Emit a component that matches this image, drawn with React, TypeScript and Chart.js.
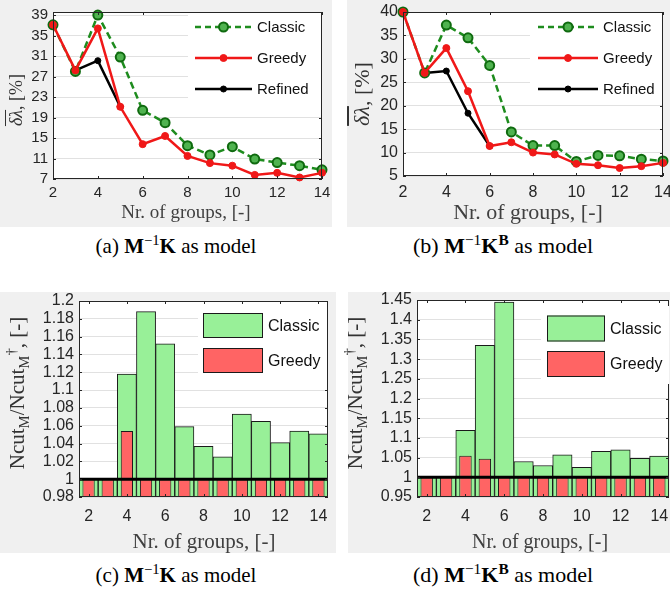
import React, { useEffect, useRef } from "react";
import { Chart, registerables } from "chart.js";
Chart.register(...registerables);

// ---------------- data ----------------
const groups = [2, 3, 4, 5, 6, 7, 8, 9, 10, 11, 12, 13, 14];
const xTickValues = [2, 4, 6, 8, 10, 12, 14];

const aClassic = [37.1, 28.0, 39.0, 30.8, 20.4, 18.0, 13.5, 11.7, 13.3, 10.9, 10.2, 9.6, 8.8];
const aGreedy = [37.1, 28.2, 36.4, 21.1, 13.8, 15.4, 11.5, 10.1, 9.6, 7.8, 8.2, 7.3, 8.2];
const aRefined = [null, 28.2, 30.1, 21.1, null, null, null, null, null, null, null, null, null];
const aYTicks = [7, 11, 15, 19, 23, 27, 31, 35, 39];

const bClassic = [40, 27.0, 37.2, 34.5, 28.6, 14.4, 11.5, 11.5, 8.1, 9.4, 9.3, 8.6, 8.2];
const bGreedy = [40, 27.0, 32.3, 23.1, 11.4, 12.2, 10.0, 9.6, 7.6, 7.3, 6.7, 7.1, 7.8];
const bRefined = [null, 27.0, 27.4, 18.4, 11.4, null, null, null, null, null, null, null, null];
const bYTicks = [5, 10, 15, 20, 25, 30, 35, 40];

const cClassic = [1, 1, 1.118, 1.188, 1.152, 1.059, 1.037, 1.025, 1.073, 1.065, 1.041, 1.054, 1.051];
const cGreedy = [1, 1, 1.054, 1, 1, 1, 1, 1, 1, 1, 1, 1, 1];
const cYTicks = [0.98, 1, 1.02, 1.04, 1.06, 1.08, 1.1, 1.12, 1.14, 1.16, 1.18, 1.2];

const dClassic = [1, 1, 1.119, 1.335, 1.445, 1.04, 1.03, 1.057, 1.025, 1.066, 1.07, 1.048, 1.054];
const dGreedy = [1, 1, 1.055, 1.047, 1, 1, 1, 1, 1, 1, 1, 1, 1];
const dYTicks = [0.95, 1, 1.05, 1.1, 1.15, 1.2, 1.25, 1.3, 1.35, 1.4, 1.45];

const lineLabels = ["Classic", "Greedy", "Refined"];
const barLabels = ["Classic", "Greedy"];

// ---------------- styles ----------------
const SANS = '"Liberation Sans", Arial, Helvetica, sans-serif';
const SERIF = '"Liberation Serif", "Times New Roman", serif';
const PANEL_BG = "#f0f0f0";
const AXIS = "#262626";
const GRID = "#e1e1e1";
const GREEN_LINE = "#1e8c1e";
const GREEN_FILL = "#4fb34f";
const GREEN_EDGE = "#0f6a0f";
const RED = "#f01818";
const BAR_GREEN = "#98f098";
const BAR_RED = "#ff6464";

type Rect = { x: number; y: number; w: number; h: number };
type Plot = { l: number; t: number; r: number; b: number };
type Spec = {
  kind: "line" | "bar";
  rect: Rect;
  plot: Plot;
  yMin: number;
  yMax: number;
  yTicks: number[];
  tickSize: number;
  xPad: number;
  classic: (number | null)[];
  greedy: (number | null)[];
  refined?: (number | null)[];
  baseline?: number;
  legend: {
    box: [number, number, number, number];
    x0: number;
    x1: number;
    tx: number;
    rows: number[];
    size: number;
    ph?: number;
  };
};

const specA: Spec = {
  kind: "line",
  rect: { x: 0, y: 0, w: 332, h: 227 },
  plot: { l: 53, t: 12, r: 322, b: 179 },
  yMin: 7, yMax: 39.6, yTicks: aYTicks, tickSize: 15, xPad: 5,
  classic: aClassic, greedy: aGreedy, refined: aRefined,
  legend: { box: [188, 13, 133, 92], x0: 195, x1: 252, tx: 257, rows: [27, 58, 89], size: 15 },
};
const specB: Spec = {
  kind: "line",
  rect: { x: 347, y: 0, w: 323, h: 227 },
  plot: { l: 403, t: 12, r: 663, b: 176 },
  yMin: 5, yMax: 40, yTicks: bYTicks, tickSize: 16, xPad: 7,
  classic: bClassic, greedy: bGreedy, refined: bRefined,
  legend: { box: [183, 13, 132, 92], x0: 191, x1: 251, tx: 256, rows: [27, 58, 89], size: 15 },
};
const specC: Spec = {
  kind: "bar",
  rect: { x: 0, y: 292, w: 336, h: 261 },
  plot: { l: 79, t: 301, r: 328, b: 497 },
  yMin: 0.98, yMax: 1.2, yTicks: cYTicks, tickSize: 16, xPad: 10,
  classic: cClassic, greedy: cGreedy, baseline: 1,
  legend: { box: [198, 13, 129, 76], x0: 203, x1: 263, tx: 268, rows: [33.5, 68.5], size: 16, ph: 25 },
};
const specD: Spec = {
  kind: "bar",
  rect: { x: 348, y: 292, w: 322, h: 261 },
  plot: { l: 417, t: 300, r: 669, b: 497 },
  yMin: 0.95, yMax: 1.45, yTicks: dYTicks, tickSize: 16, xPad: 10,
  classic: dClassic, greedy: dGreedy, baseline: 1,
  legend: { box: [193, 14, 128, 78], x0: 199, x1: 257, tx: 262, rows: [36.5, 72], size: 16, ph: 26 },
};

const fmt = (v: number) => String(Number(v.toFixed(2)));

function framePlugin(s: Spec) {
  return {
    id: "frame",
    beforeDraw(chart: any) {
      const { ctx, chartArea: a } = chart;
      ctx.save();
      ctx.fillStyle = PANEL_BG;
      ctx.fillRect(0, 0, chart.width, chart.height);
      ctx.fillStyle = "#ffffff";
      ctx.fillRect(a.left, a.top, a.right - a.left, a.bottom - a.top);
      ctx.restore();
    },
    afterDatasetsDraw(chart: any) {
      const { ctx, chartArea: a } = chart;
      const xs = chart.scales.x;
      const ys = chart.scales.y;
      ctx.save();
      if (s.baseline !== undefined) {
        const py = ys.getPixelForValue(s.baseline);
        ctx.strokeStyle = "#000";
        ctx.lineWidth = 3;
        ctx.beginPath();
        ctx.moveTo(a.left, py);
        ctx.lineTo(a.right, py);
        ctx.stroke();
      }
      // box
      ctx.strokeStyle = AXIS;
      ctx.lineWidth = 1;
      ctx.strokeRect(Math.round(a.left) + 0.5, Math.round(a.top) + 0.5, Math.round(a.right - a.left) - 1, Math.round(a.bottom - a.top) - 1);
      // tick marks (inward)
      const tl = 3;
      ctx.beginPath();
      xTickValues.forEach((v) => {
        const px = Math.round(s.kind === "bar" ? xs.getPixelForValue(groups.indexOf(v)) : xs.getPixelForValue(v)) + 0.5;
        ctx.moveTo(px, a.bottom);
        ctx.lineTo(px, a.bottom - tl);
        ctx.moveTo(px, a.top);
        ctx.lineTo(px, a.top + tl);
      });
      s.yTicks.forEach((v) => {
        const py = Math.round(ys.getPixelForValue(v)) + 0.5;
        ctx.moveTo(a.left, py);
        ctx.lineTo(a.left + tl, py);
        ctx.moveTo(a.right, py);
        ctx.lineTo(a.right - tl, py);
      });
      ctx.stroke();
      // legend
      const L = s.legend;
      ctx.fillStyle = "#ffffff";
      ctx.fillRect(L.box[0], L.box[1], L.box[2], L.box[3]);
      ctx.font = `${L.size}px ${SANS}`;
      ctx.textBaseline = "middle";
      ctx.textAlign = "left";
      if (s.kind === "line") {
        const styles = [
          { c: GREEN_LINE, dash: [6, 4], r: 4.5, f: GREEN_FILL, e: GREEN_EDGE, ew: 2 },
          { c: RED, dash: [], r: 3.5, f: RED, e: RED, ew: 1 },
          { c: "#000", dash: [], r: 3, f: "#000", e: "#000", ew: 1 },
        ];
        lineLabels.forEach((lab, i) => {
          const st = styles[i];
          const y = L.rows[i];
          ctx.strokeStyle = st.c;
          ctx.lineWidth = 2.5;
          ctx.setLineDash(st.dash);
          ctx.beginPath();
          ctx.moveTo(L.x0, y);
          ctx.lineTo(L.x1, y);
          ctx.stroke();
          ctx.setLineDash([]);
          ctx.beginPath();
          ctx.arc((L.x0 + L.x1) / 2, y, st.r, 0, Math.PI * 2);
          ctx.fillStyle = st.f;
          ctx.fill();
          ctx.lineWidth = st.ew;
          ctx.strokeStyle = st.e;
          ctx.stroke();
          ctx.fillStyle = "#111";
          ctx.fillText(lab, L.tx, y + 1);
        });
      } else {
        const fills = [BAR_GREEN, BAR_RED];
        barLabels.forEach((lab, i) => {
          const y = L.rows[i];
          const h = L.ph || 25;
          ctx.fillStyle = fills[i];
          ctx.fillRect(L.x0, y - h / 2, L.x1 - L.x0, h);
          ctx.strokeStyle = "#1a1a1a";
          ctx.lineWidth = 1;
          ctx.strokeRect(L.x0 + 0.5, y - h / 2 + 0.5, L.x1 - L.x0 - 1, h - 1);
          ctx.fillStyle = "#111";
          ctx.fillText(lab, L.tx, y + 1);
        });
      }
      ctx.restore();
    },
  };
}

function buildConfig(s: Spec): any {
  const padTop = s.plot.t - s.rect.y;
  const padRight = s.rect.x + s.rect.w - s.plot.r;
  const yWidth = s.plot.l - s.rect.x;
  const xHeight = s.rect.y + s.rect.h - s.plot.b;
  const tickFont = { family: SANS, size: s.tickSize };
  let datasets: any[];
  let xScale: any;
  if (s.kind === "line") {
    const pts = (arr: (number | null)[]) => groups.map((g, i) => ({ x: g, y: arr[i] }));
    datasets = [
      {
        label: "Greedy", data: pts(s.greedy), order: 0, clip: false,
        borderColor: RED, borderWidth: 2.5, pointRadius: 3.5, pointBackgroundColor: RED,
        pointBorderColor: RED, pointBorderWidth: 1, tension: 0,
      },
      {
        label: "Classic", data: pts(s.classic), order: 1, clip: false,
        borderColor: GREEN_LINE, borderWidth: 2.5, borderDash: [7, 4], pointRadius: 4.5,
        pointBackgroundColor: GREEN_FILL, pointBorderColor: GREEN_EDGE, pointBorderWidth: 2, tension: 0,
      },
      {
        label: "Refined", data: pts(s.refined || []), order: 2, clip: false,
        borderColor: "#000", borderWidth: 2.5, pointRadius: 3, pointBackgroundColor: "#000",
        pointBorderColor: "#000", pointBorderWidth: 1, tension: 0, spanGaps: false,
      },
    ];
    xScale = {
      type: "linear", min: 2, max: 14,
      afterBuildTicks: (sc: any) => { sc.ticks = xTickValues.map((v) => ({ value: v })); },
      ticks: { font: tickFont, color: AXIS, padding: s.xPad, maxRotation: 0, autoSkip: false, callback: (v: number) => String(v) },
    };
  } else {
    datasets = [
      {
        type: "bar", label: "Greedy", data: s.greedy, order: 0, grouped: false,
        backgroundColor: BAR_RED, borderColor: "#1a1a1a", borderWidth: 1, borderSkipped: false,
        barPercentage: 0.64, categoryPercentage: 1,
      },
      {
        type: "bar", label: "Classic", data: s.classic, order: 1, grouped: false,
        backgroundColor: BAR_GREEN, borderColor: "#1a1a1a", borderWidth: 1, borderSkipped: false,
        barPercentage: 1, categoryPercentage: 1,
      },
    ];
    xScale = {
      type: "category", offset: true,
      ticks: {
        font: tickFont, color: AXIS, padding: s.xPad, autoSkip: false, maxRotation: 0,
        callback: (_v: any, i: number) => (groups[i] % 2 === 0 ? String(groups[i]) : ""),
      },
    };
  }
  xScale.grid = { display: false, drawTicks: false };
  xScale.border = { display: false };
  xScale.title = { display: false };
  xScale.afterFit = (sc: any) => { sc.height = xHeight; sc.paddingLeft = 0; sc.paddingRight = 0; };
  return {
    type: s.kind,
    data: { labels: groups.map(String), datasets },
    options: {
      animation: false, responsive: false, maintainAspectRatio: false, devicePixelRatio: 1,
      layout: { padding: { top: padTop, right: padRight, left: 0, bottom: 0 } },
      plugins: { legend: { display: false }, tooltip: { enabled: false } },
      scales: {
        x: xScale,
        y: {
          type: "linear", min: s.yMin, max: s.yMax,
          afterBuildTicks: (sc: any) => { sc.ticks = s.yTicks.map((v) => ({ value: v })); },
          grid: { color: GRID, lineWidth: 1, drawTicks: false },
          border: { display: false },
          ticks: { font: tickFont, color: AXIS, padding: 5, autoSkip: false, callback: (v: number) => fmt(v) },
          afterFit: (sc: any) => { sc.width = yWidth; sc.paddingTop = 0; sc.paddingBottom = 0; },
        },
      },
    },
    plugins: [framePlugin(s)],
  };
}

function ChartPanel({ spec }: { spec: Spec }) {
  const ref = useRef<HTMLCanvasElement>(null);
  useEffect(() => {
    const chart = new Chart(ref.current as HTMLCanvasElement, buildConfig(spec));
    return () => chart.destroy();
  }, []);
  return (
    <canvas
      ref={ref}
      width={spec.rect.w}
      height={spec.rect.h}
      style={{ position: "absolute", left: spec.rect.x, top: spec.rect.y, width: spec.rect.w, height: spec.rect.h }}
    />
  );
}

function Txt(props: { x: number; y: number; size: number; rot?: boolean; color?: string; children: any }) {
  return (
    <div
      style={{
        position: "absolute", left: props.x, top: props.y,
        transform: `translate(-50%, -50%)${props.rot ? " rotate(-90deg)" : ""}`,
        whiteSpace: "nowrap", fontSize: props.size, fontFamily: SERIF,
        color: props.color || "#000", lineHeight: 1,
      }}
    >
      {props.children}
    </div>
  );
}

const DeltaTitle = () => (
  <span>
    <span style={{ textDecoration: "overline", fontStyle: "italic" }}>δλ</span>, [%]
  </span>
);
const NcutTitle = () => (
  <span>
    Ncut<sub style={{ fontSize: "0.7em" }}>M</sub>/Ncut<sub style={{ fontSize: "0.7em" }}>M</sub>
    <sup style={{ fontSize: "0.7em" }}>†</sup>, [-]
  </span>
);
const Cap = (p: { tag: string; b?: boolean }) => (
  <span>
    ({p.tag}) <b>M</b>
    <sup style={{ fontSize: "0.7em" }}>−1</sup>
    <b>K</b>
    {p.b ? <sup style={{ fontSize: "0.7em" }}><b>B</b></sup> : null} as model
  </span>
);

export default function App() {
  const xTitle = "Nr. of groups, [-]";
  return (
    <div style={{ position: "absolute", left: 0, top: 0, width: 670, height: 592, background: "#fff", overflow: "hidden" }}>
      <ChartPanel spec={specA} />
      <ChartPanel spec={specB} />
      <ChartPanel spec={specC} />
      <ChartPanel spec={specD} />

      <Txt x={16} y={100} size={18} rot color="#333"><DeltaTitle /></Txt>
      <Txt x={362} y={94} size={22} rot color="#333"><DeltaTitle /></Txt>
      <Txt x={18} y={393} size={21} rot color="#333"><NcutTitle /></Txt>
      <Txt x={356} y={393} size={21} rot color="#333"><NcutTitle /></Txt>

      <Txt x={186} y={211} size={19} color="#404040">{xTitle}</Txt>
      <Txt x={528} y={212} size={22} color="#404040">{xTitle}</Txt>
      <Txt x={204} y={541} size={21} color="#404040">{xTitle}</Txt>
      <Txt x={540} y={541} size={20} color="#404040">{xTitle}</Txt>

      <Txt x={176} y={245} size={21}><Cap tag="a" /></Txt>
      <Txt x={503} y={245} size={22}><Cap tag="b" b /></Txt>
      <Txt x={176} y={574} size={21}><Cap tag="c" /></Txt>
      <Txt x={503} y={574} size={22}><Cap tag="d" b /></Txt>
    </div>
  );
}
